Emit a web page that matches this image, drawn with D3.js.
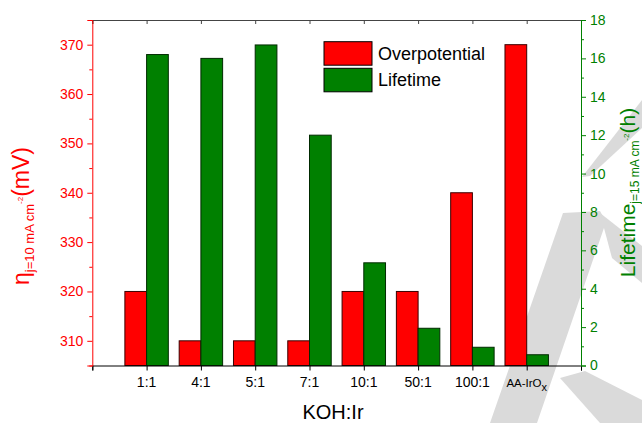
<!DOCTYPE html>
<html lang="en">
<head>
    <meta charset="UTF-8">
    <title>Overpotential and Lifetime vs KOH:Ir</title>
    <script src="https://d3js.org/d3.v7.min.js"></script>
    <style>
        body { margin: 0; background: #fff; }
        text { font-family: "Liberation Sans", Arial, sans-serif; }
    </style>
</head>
<body>
<svg width="642" height="423"></svg>
<script>
    // data
    const categories = ["1:1", "4:1", "5:1", "7:1", "10:1", "50:1", "100:1", "AA-IrOx"];
    const overpotential = [320, 310, 310, 310, 320, 320, 340, 370];   // mV
    const lifetime = [16.2, 16.0, 16.7, 12.0, 5.35, 1.94, 0.95, 0.56]; // h
    const leftTicks = [310, 320, 330, 340, 350, 360, 370];
    const leftMinor = [305, 315, 325, 335, 345, 355, 365, 375];
    const rightTicks = [0, 2, 4, 6, 8, 10, 12, 14, 16, 18];
    const rightMinor = [1, 3, 5, 7, 9, 11, 13, 15, 17];

    const width = 642, height = 423;
    const plotLeft = 92.3, plotRight = 581, plotTop = 20, plotBottom = 365.5;

    const svg = d3.select("svg");

    // faint watermark in the background
    const marks = [
        [[642, 100], [642, 128], [590, 176], [582, 177]],
        [[563, 213], [600, 211], [606, 222], [537, 423], [490, 423]],
        [[600, 213], [642, 246], [642, 283], [612, 258]],
        [[560, 378], [585, 371], [642, 400], [642, 423], [600, 423]]
    ];
    svg.append("g").selectAll("path")
        .data(marks)
        .enter().append("path")
        .attr("d", d => "M" + d.join("L") + "Z")
        .attr("fill", "#dadada");

    const x = d3.scaleLinear().domain([0, categories.length + 1]).range([plotLeft, plotRight]);
    const yL = d3.scaleLinear().domain([305, 375]).range([plotBottom, plotTop]);
    const yR = d3.scaleLinear().domain([0, 18]).range([plotBottom, plotTop]);
    const bw = (x(1) - x(0)) * 0.4;

    // bars
    svg.append("g").selectAll("rect")
        .data(overpotential)
        .enter().append("rect")
        .attr("x", (d, i) => x(i + 1) - bw)
        .attr("y", d => yL(d))
        .attr("width", bw)
        .attr("height", d => yL(305) - yL(d))
        .attr("fill", "#ff0000")
        .attr("stroke", "#3a0000")
        .attr("stroke-width", 1);

    svg.append("g").selectAll("rect")
        .data(lifetime)
        .enter().append("rect")
        .attr("x", (d, i) => x(i + 1))
        .attr("y", d => yR(d))
        .attr("width", bw)
        .attr("height", d => yR(0) - yR(d))
        .attr("fill", "#008000")
        .attr("stroke", "#002a00")
        .attr("stroke-width", 1);

    // top axis (ticks inside)
    const topAxis = svg.append("g")
        .attr("transform", "translate(0," + plotTop + ")")
        .call(d3.axisTop(x).tickValues(d3.range(0, categories.length + 1)).tickSize(-4).tickFormat(""));
    topAxis.selectAll("path, line").attr("stroke", "#444");

    // bottom axis
    const bottomAxis = svg.append("g")
        .attr("transform", "translate(0," + plotBottom + ")")
        .call(d3.axisBottom(x).tickValues(d3.range(0, categories.length + 2)).tickSize(5).tickPadding(6).tickFormat(""));
    bottomAxis.selectAll("path, line").attr("stroke", "#000");

    svg.append("g").selectAll("text")
        .data(categories)
        .enter().append("text")
        .attr("x", (d, i) => x(i + 1))
        .attr("y", 387)
        .attr("text-anchor", "middle")
        .attr("font-size", d => d === "AA-IrOx" ? 11.5 : 14)
        .attr("fill", "#000")
        .each(function(d) {
            const t = d3.select(this);
            if (d === "AA-IrOx") {
                t.append("tspan").text("AA-IrO");
                t.append("tspan").attr("dy", 4).attr("font-size", 11).text("x");
            } else {
                t.text(d);
            }
        });

    // left axis
    const red = "#ff0000";
    const leftAxis = svg.append("g")
        .attr("transform", "translate(" + plotLeft + ",0)")
        .call(d3.axisLeft(yL).tickValues(leftTicks).tickSize(5).tickPadding(4));
    leftAxis.select(".domain").attr("stroke", red);
    leftAxis.selectAll(".tick line").attr("stroke", red);
    leftAxis.selectAll("text").attr("fill", red).attr("font-size", 14)
        .style("font-family", "Liberation Sans, Arial, sans-serif");
    svg.append("g")
        .attr("transform", "translate(" + plotLeft + ",0)")
        .call(d3.axisLeft(yL).tickValues(leftMinor).tickSize(3).tickFormat(""))
        .call(g => g.select(".domain").remove())
        .selectAll("line").attr("stroke", red);

    // right axis
    const green = "#008000";
    const rightAxis = svg.append("g")
        .attr("transform", "translate(" + plotRight + ",0)")
        .call(d3.axisRight(yR).tickValues(rightTicks).tickSize(5).tickPadding(4));
    rightAxis.select(".domain").attr("stroke", green);
    rightAxis.selectAll(".tick line").attr("stroke", green);
    rightAxis.selectAll("text").attr("fill", green).attr("font-size", 14)
        .style("font-family", "Liberation Sans, Arial, sans-serif");
    svg.append("g")
        .attr("transform", "translate(" + plotRight + ",0)")
        .call(d3.axisRight(yR).tickValues(rightMinor).tickSize(3).tickFormat(""))
        .call(g => g.select(".domain").remove())
        .selectAll("line").attr("stroke", green);

    // axis titles
    svg.append("text")
        .attr("x", 333)
        .attr("y", 419)
        .attr("text-anchor", "middle")
        .attr("font-size", 20)
        .attr("fill", "#000")
        .text("KOH:Ir");

    const leftTitle = svg.append("text")
        .attr("transform", "translate(29,216) rotate(-90)")
        .attr("text-anchor", "middle")
        .attr("font-size", 23)
        .attr("fill", red);
    leftTitle.append("tspan").text("η");
    leftTitle.append("tspan").attr("font-size", 13).attr("dy", 5).text("j=10 mA cm");
    leftTitle.append("tspan").attr("font-size", 8).attr("dy", -11).text("-2");
    leftTitle.append("tspan").attr("dy", 6).text("(mV)");

    const rightTitle = svg.append("text")
        .attr("transform", "translate(635,192.5) rotate(-90)")
        .attr("text-anchor", "middle")
        .attr("font-size", 21)
        .attr("fill", green);
    rightTitle.append("tspan").text("Lifetime");
    rightTitle.append("tspan").attr("font-size", 12).attr("dy", 4).text("j=15 mA cm");
    rightTitle.append("tspan").attr("font-size", 8).attr("dy", -10).text("-2");
    rightTitle.append("tspan").attr("dy", 6).text("(h)");

    // legend
    const legendItems = ["Overpotential", "Lifetime"];
    const legendColors = ["#ff0000", "#008000"];
    const legend = svg.append("g").selectAll("g")
        .data(legendItems)
        .enter().append("g")
        .attr("transform", (d, i) => "translate(324," + (41.7 + i * 26.6) + ")");
    legend.append("rect")
        .attr("width", 48)
        .attr("height", 23.5)
        .attr("fill", (d, i) => legendColors[i])
        .attr("stroke", "#000");
    legend.append("text")
        .attr("x", 54)
        .attr("y", 18)
        .attr("font-size", 18)
        .attr("fill", "#000")
        .text(d => d);
</script>
</body>
</html>
